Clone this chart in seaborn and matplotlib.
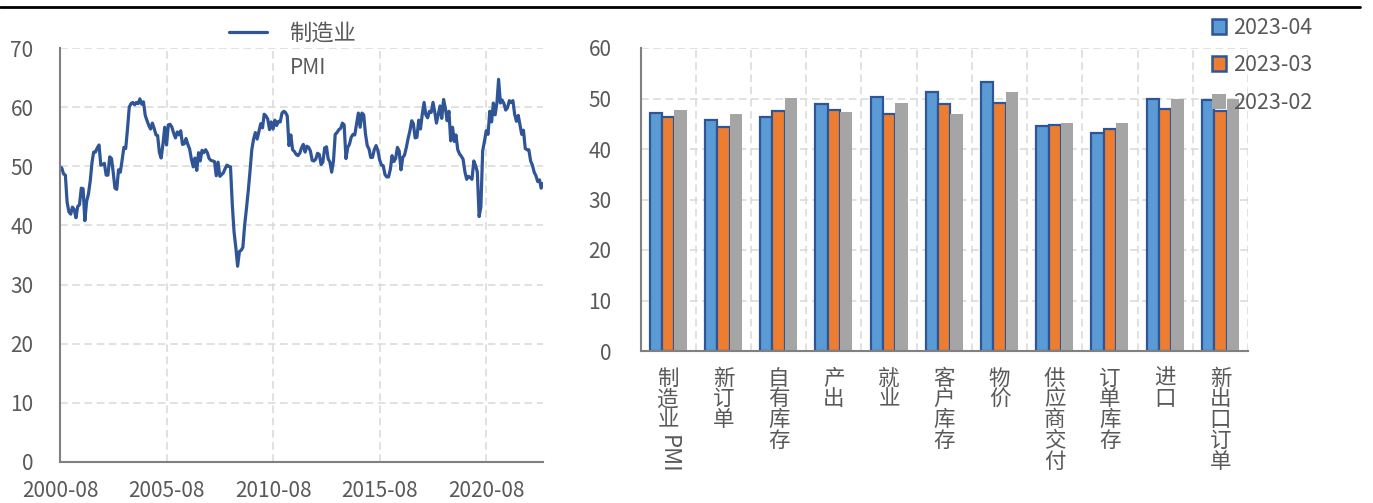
import numpy as np
import pandas as pd
import seaborn as sns
import matplotlib.pyplot as plt
from matplotlib.lines import Line2D
from matplotlib.patches import Patch
from matplotlib.transforms import blended_transform_factory

sns.set_theme(style='white')
plt.rcParams['font.family'] = ['Noto Sans CJK SC', 'DejaVu Sans']

# ISM manufacturing PMI, monthly from 2000-08
pmi_start = '2000-08'
pmi_values = [
    49.9, 49.7, 48.7, 48.5, 43.9,
    42.3, 41.9, 43.1, 42.7, 41.3, 43.2, 43.5, 46.3, 46.2, 40.8, 44.1, 45.3,
    47.5, 50.7, 52.4, 52.4, 53.1, 53.6, 50.2, 50.3, 50.5, 48.5, 48.5, 51.6,
    51.3, 48.8, 46.3, 46.1, 49.4, 49.0, 51.0, 53.2, 53.0, 56.2, 60.0, 60.6,
    60.8, 60.4, 60.8, 60.6, 61.4, 60.5, 60.9, 58.6, 57.7, 56.9, 56.3, 57.3,
    56.4, 55.3, 55.2, 52.3, 51.4, 53.8, 56.6, 53.6, 57.0, 57.1, 56.6, 55.6,
    54.8, 55.8, 55.3, 56.0, 53.7, 53.8, 54.7, 53.7, 52.9, 51.2, 49.9, 51.4,
    49.3, 52.3, 50.9, 52.7, 52.3, 52.8, 52.3, 51.3, 51.0, 50.9, 50.8, 48.4,
    50.7, 48.3, 48.6, 48.9, 49.6, 50.2, 50.0, 49.9, 43.5, 38.9, 36.2, 33.1,
    35.6, 35.8, 36.3, 40.1, 42.8, 45.8, 49.1, 52.8, 54.6, 55.7, 54.6, 55.9,
    57.2, 56.5, 58.8, 58.5, 58.0, 56.2, 57.5, 56.3, 57.8, 56.9, 57.6, 57.5,
    59.0, 59.3, 59.1, 58.5, 53.5, 55.3, 52.8, 52.5, 52.0, 51.8, 52.2, 53.1,
    53.7, 52.4, 53.4, 53.2, 52.6, 51.0, 50.9, 51.2, 52.2, 52.0, 50.3, 50.7,
    53.1, 53.3, 51.3, 50.7, 49.0, 50.9, 55.4, 55.7, 56.2, 56.4, 57.3, 57.0,
    51.3, 53.2, 53.7, 54.9, 55.4, 55.3, 57.1, 59.0, 56.6, 59.0, 58.7, 55.5,
    53.5, 52.9, 51.5, 51.5, 52.8, 53.5, 52.7, 51.1, 50.2, 50.1, 48.6, 48.2,
    48.2, 49.5, 51.8, 50.8, 51.3, 53.2, 52.6, 49.4, 51.5, 51.9, 53.2, 54.7,
    56.0, 57.7, 57.2, 54.8, 54.9, 57.8, 56.3, 58.8, 60.8, 58.7, 58.2, 59.3,
    59.1, 60.8, 59.3, 57.3, 58.7, 60.2, 58.1, 61.3, 59.8, 57.7, 59.3, 54.3,
    56.6, 54.2, 55.3, 52.8, 52.1, 51.7, 51.2, 49.1, 47.8, 48.3, 48.1, 47.8,
    50.9, 50.1, 49.1, 41.5, 43.1, 52.6, 54.2, 56.0, 55.4, 59.3, 57.5, 60.7,
    58.7, 60.8, 64.7, 60.7, 61.2, 60.6, 59.5, 59.9, 61.1, 60.8, 61.1, 58.8,
    57.6, 58.6, 57.1, 55.4, 56.1, 53.0, 52.8, 52.8, 50.9, 50.2, 49.0, 48.4,
    47.4, 47.7, 46.3, 47.1,
]
pmi_ticks = ['2000-08', '2005-08', '2010-08', '2015-08', '2020-08']

# ISM sub-indices
categories = ['制造业PMI', '新订单', '自有库存', '产出', '就业', '客户库存',
              '物价', '供应商交付', '订单库存', '进口', '新出口订单']
series_names = ['2023-04', '2023-03', '2023-02']
v_2023_04 = [47.1, 45.7, 46.3, 48.9, 50.2, 51.3, 53.2, 44.6, 43.1, 49.9, 49.7]
v_2023_03 = [46.3, 44.3, 47.5, 47.8, 46.9, 48.9, 49.2, 44.8, 43.9, 47.9, 47.6]
v_2023_02 = [47.7, 47.0, 50.1, 47.3, 49.1, 46.9, 51.3, 45.2, 45.1, 49.9, 49.9]

bar_colors = ['#5B9BD5', '#ED7D31', '#A5A5A5']
edge_blue = '#2F5597'
grid_kw = dict(color='#D9D9D9', linestyle=(0, (5, 3)), linewidth=1.1)
text_color = '#595959'
fs = 15

pmi_df = pd.DataFrame({
    'date': pd.date_range(pmi_start, periods=len(pmi_values), freq='MS'),
    'pmi': pmi_values,
})
bar_df = pd.DataFrame({'cat': categories, series_names[0]: v_2023_04,
                       series_names[1]: v_2023_03, series_names[2]: v_2023_02})
bar_df = bar_df.melt(id_vars='cat', var_name='series', value_name='value')

fig = plt.figure(figsize=(13.73, 5.03), dpi=100)
W, H = 1373, 503
ax1 = fig.add_axes([60 / W, 1 - 462 / H, 483 / W, 414 / H])
ax2 = fig.add_axes([640.6 / W, 1 - 351 / H, 607.4 / W, 303 / H])

# left: PMI line
sns.lineplot(data=pmi_df, x='date', y='pmi', ax=ax1, color=edge_blue,
             linewidth=2.3, label='制造业')
ax1.set_xlim(pmi_df['date'].iloc[0], pmi_df['date'].iloc[-1])
ax1.set_ylim(0, 70)
ax1.set_yticks(range(0, 71, 10))
ax1.set_xticks(pd.to_datetime(pmi_ticks))
ax1.set_xticklabels(pmi_ticks)
ax1.grid(True, **grid_kw)
ax1.set_xlabel('')
ax1.set_ylabel('')
ax1.tick_params(axis='y', length=0, pad=19, labelsize=fs, labelcolor=text_color)
ax1.tick_params(axis='x', length=0, pad=13, labelsize=fs, labelcolor=text_color)
for s in ['top', 'right']:
    ax1.spines[s].set_visible(False)
for s in ['left', 'bottom']:
    ax1.spines[s].set_color('#808080')
    ax1.spines[s].set_linewidth(1.5)
ax1.legend(loc='center left', bbox_to_anchor=(229 / W, 1 - 33 / H),
           bbox_transform=fig.transFigure, frameon=False, fontsize=16,
           handlelength=1.7, handletextpad=1.0, borderpad=0, borderaxespad=0,
           labelcolor=text_color)
fig.text(290 / W, 1 - 68 / H, 'PMI', fontsize=fs, color=text_color, va='center')

# right: sub-index bars
sns.barplot(data=bar_df, x='cat', y='value', hue='series', order=categories,
            hue_order=series_names, palette=bar_colors, saturation=1,
            width=0.67, ax=ax2, legend=False)
for i, cont in enumerate(ax2.containers):
    for p in cont:
        if i < 2:
            p.set_edgecolor(edge_blue)
            p.set_linewidth(1.6)
        else:
            p.set_edgecolor('none')
ax2.set_xlim(-0.5, len(categories) - 0.5)
ax2.set_ylim(0, 60)
ax2.set_yticks(range(0, 61, 10))
ax2.set_xticks(range(len(categories)), minor=False)
ax2.set_xticks(np.arange(-0.5, len(categories), 1), minor=True)
labels = ['\n'.join(c) if i else '制\n造\n业' for i, c in enumerate(categories)]
ax2.set_xticklabels(labels, linespacing=0.93, fontsize=15.5, va='top')
ax2.text(0, 1 - 454 / H, 'PMI', rotation=-90, ha='center', va='center',
         fontsize=16, color=text_color,
         transform=blended_transform_factory(ax2.transData, fig.transFigure))
ax2.grid(True, axis='y', **grid_kw)
ax2.grid(True, axis='x', which='minor', **grid_kw)
ax2.set_axisbelow(True)
ax2.set_xlabel('')
ax2.set_ylabel('')
ax2.tick_params(axis='y', length=0, pad=21, labelsize=fs, labelcolor=text_color)
ax2.tick_params(axis='x', which='both', length=0, pad=12, labelcolor=text_color)
for s in ['top', 'right']:
    ax2.spines[s].set_visible(False)
for s in ['left', 'bottom']:
    ax2.spines[s].set_color('#808080')
    ax2.spines[s].set_linewidth(1.5)

handles = [Patch(facecolor=bar_colors[0], edgecolor=edge_blue, linewidth=1.8),
           Patch(facecolor=bar_colors[1], edgecolor=edge_blue, linewidth=1.8),
           Patch(facecolor=bar_colors[2], edgecolor='none')]
fig.legend(handles, series_names, loc='upper left',
           bbox_to_anchor=(1201 / W, 1 - 6 / H), frameon=False, fontsize=15.5,
           handlelength=0.68, handleheight=0.68, handletextpad=0.3,
           labelspacing=0.72, borderpad=0, labelcolor=text_color)

# header rule
fig.add_artist(Line2D([0, 1360 / W], [1 - 7 / H] * 2, color='black', linewidth=2))

fig.savefig('out.png', dpi=100)
